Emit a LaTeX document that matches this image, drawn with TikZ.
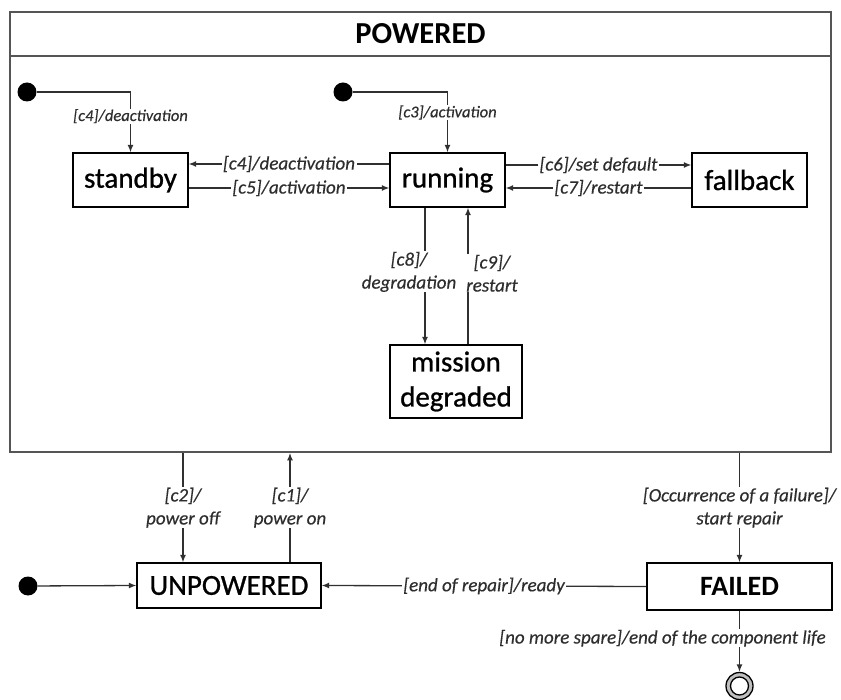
\documentclass[tikz,border=0pt]{standalone}
\usepackage{fontspec}
\setmainfont{Carlito}
\newfontfamily\statefont{Carlito}[FakeBold=0.9]
\newfontfamily\labelfont{Carlito}[FakeBold=0.35]
\usetikzlibrary{arrows.meta,calc}
\definecolor{linegray}{HTML}{303030}
\definecolor{framegray}{HTML}{555555}
\definecolor{labelgray}{HTML}{2E2E2E}
\begin{document}
\begin{tikzpicture}[x=1pt,y=-1pt,
  statebox/.style={draw=black, line width=1.3pt, fill=white, text=black,
    font=\statefont\fontsize{29}{31}\selectfont, inner sep=0pt,
    minimum width=115pt, minimum height=54pt},
  conn/.style={draw=linegray, line width=1.3pt, -{Latex[length=7.5pt,width=6pt]}},
  lbl/.style={fill=white, text=labelgray, font=\labelfont\fontsize{19}{23}\selectfont\itshape,
    inner xsep=1.5pt, inner ysep=0.5pt, align=center},
  lblsmall/.style={lbl, font=\labelfont\fontsize{16.5}{19}\selectfont\itshape},
  initdot/.style={circle, fill=black, inner sep=0pt, minimum size=19pt},
]
\useasboundingbox (0,0) rectangle (841,700);

% composite state POWERED
\node[draw=framegray, line width=1.8pt, inner sep=0pt,
      minimum width=821pt, minimum height=440pt] (powered) at (420.5,232) {};
\draw[framegray, line width=1.5pt] ([yshift=-45pt]powered.north west) -- ([yshift=-45pt]powered.north east);
\node[font=\bfseries\fontsize{30.5}{32}\selectfont] (poweredtitle) at ($(powered.north)+(0,23)$) {POWERED};

% inner states
\node[statebox] (standby) at (130.5,180) {standby};
\node[statebox] (running) at (447.5,180) {running};
\node[statebox] (fallback) at (749.5,180) {fallback};
\node[statebox, minimum width=132pt, minimum height=73pt, align=center,
      font=\statefont\fontsize{29}{35}\selectfont] (mission) at (456,381.5) {mission\\degraded};

% outer states
\node[statebox, minimum width=184pt, minimum height=45pt] (unpowered) at (229,585.5) {UNPOWERED};
\node[statebox, minimum width=185pt, minimum height=47pt,
      font=\bfseries\fontsize{28}{30}\selectfont] (failed) at (739.5,586.5) {FAILED};

% initial and final pseudo-states
\node[initdot] (init1) at (27,92) {};
\node[initdot] (init2) at (343,92) {};
\node[initdot] (init3) at (28,586) {};
\node[circle, inner sep=0pt, minimum size=27pt, draw=black, line width=1.3pt, fill=gray!50] (final) at (739.5,686) {};
\node[circle, inner sep=0pt, minimum size=18pt, draw=black, line width=1.3pt, fill=white] (finalinner) at (final) {};

% transitions inside POWERED
\draw[conn] (init1) -| node[lblsmall, pos=0.7] {[c4]/deactivation} (standby.north);
\draw[conn] (init2) -| node[lblsmall, pos=0.67] {[c3]/activation} (running.north);

\draw[conn] ([yshift=16pt]running.west) -- node[lbl] {[c4]/deactivation} ([yshift=16pt]standby.east);
\draw[conn] ([yshift=-8pt]standby.east) -- node[lbl] {[c5]/activation} ([yshift=-8pt]running.west);
\draw[conn] ([yshift=15pt]running.east) -- node[lbl] {[c6]/set default} ([yshift=15pt]fallback.west);
\draw[conn] ([yshift=-8pt]fallback.west) -- node[lbl] {[c7]/restart} ([yshift=-8pt]running.east);

\coordinate (c8top) at ([xshift=-22.5pt]running.south);
\coordinate (c8bot) at (c8top |- mission.north);
\draw[conn] (c8top) -- node[lbl, pos=0.47, xshift=-16pt] {[c8]/\\degradation} (c8bot);
\coordinate (c9top) at ([xshift=20.5pt]running.south);
\coordinate (c9bot) at (c9top |- mission.north);
\draw[conn] (c9bot) -- node[lbl, pos=0.52, xshift=24pt] {[c9]/\\restart} (c9top);

% transitions between the top-level states
\coordinate (c2bot) at ([xshift=-46pt]unpowered.north);
\coordinate (c2top) at (c2bot |- powered.south);
\draw[conn] (c2top) -- node[lbl] {[c2]/\\power off} (c2bot);
\coordinate (c1bot) at ([xshift=61pt]unpowered.north);
\coordinate (c1top) at (c1bot |- powered.south);
\draw[conn] (c1bot) -- node[lbl] {[c1]/\\power on} (c1top);

\coordinate (failtop) at (failed.north |- powered.south);
\draw[conn] (failtop) -- node[lbl] {[Occurrence of a failure]/\\start repair} (failed.north);
\draw[conn] (failed.west) -- node[lbl] {[end of repair]/ready} (unpowered.east);
\draw[conn] (init3) -- (unpowered.west);
\draw[conn] (failed.south) -- node[lbl, pos=0.45, xshift=-77pt] {[no more spare]/end of the component life} (final.north);
\end{tikzpicture}
\end{document}
